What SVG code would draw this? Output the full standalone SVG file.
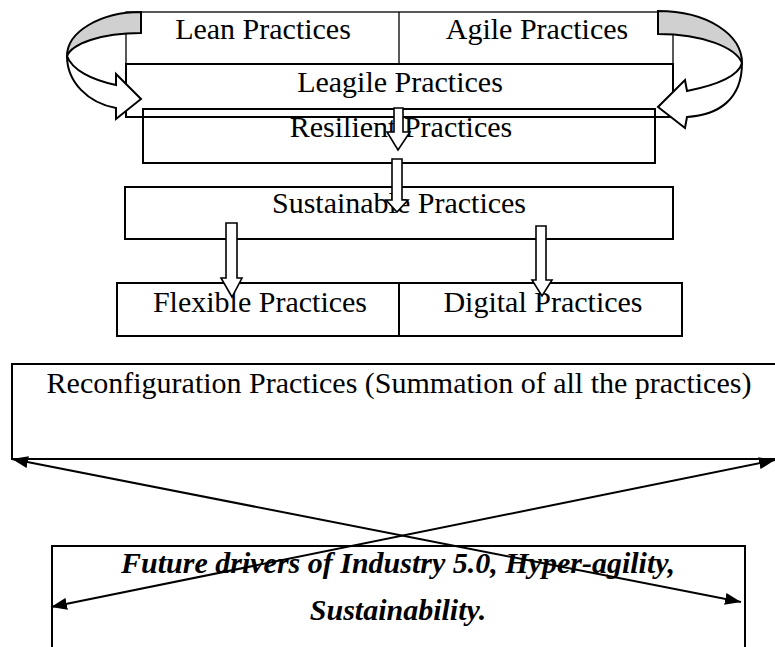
<svg xmlns="http://www.w3.org/2000/svg" width="775" height="647" viewBox="0 0 775 647">
  <style>
    .box { fill: none; stroke: #000; stroke-width: 2; }
    .thin { fill: none; stroke: #000; stroke-width: 1.3; }
    .txt { font-family: "Liberation Serif", "Times New Roman", serif; font-size: 30px; fill: #000; text-anchor: middle; }
    .em { font-weight: bold; font-style: italic; }
    .blk { fill: #fff; stroke: #000; stroke-width: 1.6; stroke-linejoin: miter; }
    .band { fill: #fff; stroke: #000; stroke-width: 2; stroke-linejoin: miter; }
    .shade { fill: #d0d0d0; stroke: #000; stroke-width: 2; }
    .link { fill: none; stroke: #000; stroke-width: 2; }
  </style>
  <defs>
    <marker id="head" viewBox="0 0 16 12" refX="16" refY="6" markerWidth="16" markerHeight="12" markerUnits="userSpaceOnUse" orient="auto-start-reverse">
      <path d="M0,0 L16,6 L0,12 Z" fill="#000"/>
    </marker>
  </defs>

  <rect width="775" height="647" fill="#fff"/>

  <g id="lean-agile">
    <rect class="thin" x="126" y="12" width="547" height="52"/>
    <line class="thin" x1="399" y1="12" x2="399" y2="64"/>
    <text class="txt" x="263" y="39">Lean Practices</text>
    <text class="txt" x="537" y="39">Agile Practices</text>
  </g>

  <g id="leagile">
    <rect class="box" x="126" y="64" width="547" height="53"/>
    <text class="txt" x="400" y="92">Leagile Practices</text>
  </g>

  <g id="resilient">
    <rect class="box" x="143" y="109" width="512" height="54"/>
    <text class="txt" x="401" y="137">Resilient Practices</text>
  </g>

  <g id="sustainable">
    <rect class="box" x="125" y="187" width="548" height="52"/>
    <text class="txt" x="399" y="213">Sustainable Practices</text>
  </g>

  <g id="flexible">
    <rect class="box" x="117" y="283" width="282" height="53"/>
    <text class="txt" x="260" y="312">Flexible Practices</text>
  </g>

  <g id="digital">
    <rect class="box" x="399" y="283" width="283" height="53"/>
    <text class="txt" x="543" y="312">Digital Practices</text>
  </g>

  <g id="reconfiguration">
    <rect class="box" x="12" y="364" width="780" height="95"/>
    <text class="txt" x="399" y="393">Reconfiguration Practices (Summation of all the practices)</text>
  </g>

  <g id="future-drivers">
    <rect class="box" x="52" y="546" width="693" height="120"/>
    <text class="txt em" x="398" y="573">Future drivers of Industry 5.0, Hyper-agility,</text>
    <text class="txt em" x="398" y="620">Sustainability.</text>
  </g>

  <g id="connectors">
    <!-- curved arrow on the left: Lean into Leagile -->
    <path class="shade" d="M141,12 C100,12 67,32 67,56 C72,44 100,33 141,33 Z"/>
    <path class="band" d="M67,56 C67,82 88,103 116,108 L116,119 L141,99 L116,74 L116,85 C92,80 72,70 67,56 Z"/>
    <!-- curved arrow on the right: Agile into Leagile -->
    <path class="shade" d="M658,11 C708,11 742,35 742,63 C736,48 704,34 658,34 Z"/>
    <path class="band" d="M742,63 C742,100 718,115 687,117 L685,128 L658,107 L685,80 L687,91 C712,86 738,78 742,63 Z"/>

    <!-- block arrows down the chain -->
    <polygon class="blk" points="394,108 403,108 403,132 410,132 398,150 387,132 394,132"/>
    <polygon class="blk" points="392,159 402,159 402,200 408,200 397,212 386,200 392,200"/>
    <polygon class="blk" points="226,223 237,223 237,278 242,278 232,297 221,278 226,278"/>
    <polygon class="blk" points="536,226 546,226 546,280 552,280 542,296 532,280 536,280"/>

    <!-- crossing two-way links between the last two boxes -->
    <line class="link" x1="51" y1="607" x2="775" y2="460" marker-start="url(#head)" marker-end="url(#head)"/>
    <line class="link" x1="12" y1="459" x2="741" y2="602" marker-start="url(#head)" marker-end="url(#head)"/>
  </g>
</svg>
